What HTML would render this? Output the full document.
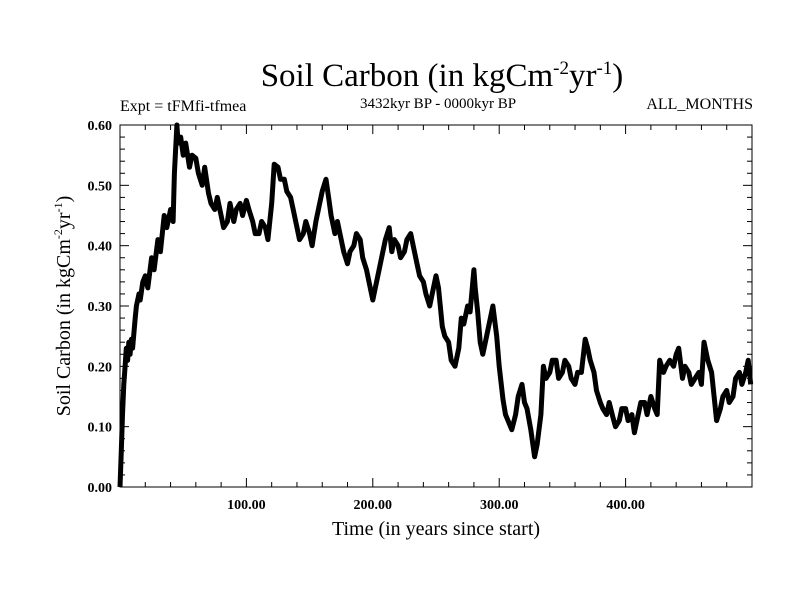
<!DOCTYPE html>
<html><head><meta charset="utf-8"><style>
body{margin:0;background:#fff;}
svg text{font-family:"Liberation Serif",serif;fill:#000;}
</style></head><body>
<svg id="chart" width="800" height="600" xmlns="http://www.w3.org/2000/svg">
<text x="442" y="86" font-size="33" text-anchor="middle">Soil Carbon (in kgCm<tspan font-size="19" dy="-12">-2</tspan><tspan dy="12">yr</tspan><tspan font-size="19" dy="-12">-1</tspan><tspan dy="12">)</tspan></text>
<text x="120" y="111" font-size="16">Expt = tFMfi-tfmea</text>
<text x="438" y="108" font-size="15" text-anchor="middle">3432kyr BP - 0000kyr BP</text>
<text x="753" y="109" font-size="16" text-anchor="end">ALL_MONTHS</text>
<text x="436" y="535" font-size="20" text-anchor="middle">Time (in years since start)</text>
<text transform="translate(70,306) rotate(-90)" font-size="20" text-anchor="middle">Soil Carbon (in kgCm<tspan font-size="12" dy="-8">-2</tspan><tspan dy="8">yr</tspan><tspan font-size="12" dy="-8">-1</tspan><tspan dy="8">)</tspan></text>
<g id="axes"></g>
<path id="series" fill="none" stroke="#000" stroke-width="5" stroke-linejoin="round"/>
<rect x="120" y="125" width="632" height="362" fill="none" stroke="#000" stroke-width="1"/>
</svg>
<script>
const years = [0,1,2,3,4,5,6,7,8,9,10,12,13,15,16,18,20,22,25,27,30,32,35,37,40,42,43,45,46,48,50,52,55,57,60,62,65,67,70,72,75,77,80,82,85,87,90,92,95,97,100,102,105,107,110,112,115,117,120,122,125,127,130,132,135,137,140,142,145,147,150,152,155,157,160,163,165,167,170,172,175,177,180,182,185,187,190,192,195,197,200,202,205,207,210,213,215,217,220,222,225,227,230,232,235,237,240,242,245,247,250,252,255,257,260,262,265,268,270,272,275,277,280,281,283,285,287,290,292,295,298,300,303,305,307,310,313,315,318,320,322,325,328,330,333,335,337,340,342,345,347,350,352,355,357,360,362,365,368,370,372,375,377,380,382,385,387,390,392,395,397,400,402,405,407,410,412,415,417,420,423,425,427,430,432,435,438,440,442,445,447,450,452,455,458,460,462,465,468,470,472,475,477,480,482,485,487,490,492,495,497,499];
const values = [0.0,0.06,0.12,0.17,0.2,0.23,0.21,0.24,0.22,0.245,0.23,0.28,0.3,0.32,0.31,0.34,0.35,0.33,0.38,0.36,0.41,0.39,0.45,0.43,0.46,0.44,0.52,0.6,0.57,0.58,0.55,0.57,0.53,0.55,0.545,0.52,0.5,0.53,0.487,0.47,0.46,0.48,0.45,0.43,0.44,0.47,0.44,0.46,0.47,0.45,0.475,0.46,0.44,0.42,0.42,0.44,0.43,0.41,0.47,0.535,0.53,0.51,0.51,0.49,0.48,0.46,0.43,0.41,0.42,0.44,0.42,0.40,0.44,0.46,0.49,0.51,0.48,0.45,0.42,0.44,0.41,0.39,0.37,0.39,0.40,0.42,0.41,0.38,0.36,0.34,0.31,0.33,0.36,0.38,0.41,0.43,0.39,0.41,0.40,0.38,0.39,0.41,0.42,0.40,0.37,0.35,0.34,0.32,0.30,0.32,0.35,0.33,0.266,0.25,0.24,0.21,0.2,0.23,0.28,0.27,0.30,0.29,0.36,0.33,0.29,0.24,0.22,0.25,0.27,0.30,0.25,0.2,0.145,0.12,0.11,0.095,0.12,0.15,0.17,0.14,0.13,0.095,0.05,0.07,0.12,0.2,0.18,0.19,0.21,0.21,0.18,0.19,0.21,0.20,0.18,0.17,0.19,0.19,0.245,0.23,0.21,0.19,0.16,0.14,0.13,0.12,0.14,0.115,0.1,0.11,0.13,0.13,0.11,0.12,0.09,0.12,0.14,0.14,0.12,0.15,0.13,0.12,0.21,0.19,0.20,0.21,0.20,0.22,0.23,0.18,0.20,0.19,0.17,0.18,0.19,0.17,0.24,0.21,0.19,0.15,0.11,0.13,0.15,0.16,0.14,0.15,0.18,0.19,0.17,0.19,0.21,0.17,0.18,0.16];
const xTicks = [100,200,300,400];
const yTicks = [0,0.1,0.2,0.3,0.4,0.5,0.6];
const L=120,R=752,T=125,B=487,XMAX=500,YMAX=0.6;
function xs(v){return L+(v/XMAX)*(R-L);}
function ys(v){return B-(v/YMAX)*(B-T);}
const NS="http://www.w3.org/2000/svg";
const axes=document.getElementById('axes');
function line(x1,y1,x2,y2,name){const l=document.createElementNS(NS,'line');l.setAttribute('x1',x1);l.setAttribute('y1',y1);l.setAttribute('x2',x2);l.setAttribute('y2',y2);l.setAttribute('stroke','#000');


axes.appendChild(l);}
function txt(x,y,s,anchor,name){const t=document.createElementNS(NS,'text');t.setAttribute('x',x);t.setAttribute('y',y);t.setAttribute('font-size','14');t.setAttribute('font-weight','bold');t.setAttribute('text-anchor',anchor);t.textContent=s;


axes.appendChild(t);}
for(let v=20;v<XMAX;v+=20){const x=xs(v);const major=v%100===0;const len=major?9:5;line(x,B,x,B-len,'x-tick');line(x,T,x,T+len,'x-tick-top');}
xTicks.forEach(v=>txt(xs(v),509,v.toFixed(2),'middle','x-tick-label'));
for(let i=1;i<30;i++){const v=i*0.02;const y=ys(v);const major=i%5===0;const len=major?9:5;line(L,y,L+len,y,'y-tick');line(R,y,R-len,y,'y-tick-right');}
yTicks.forEach(v=>txt(112,ys(v)+5,v.toFixed(2),'end','y-tick-label'));
let d='';years.forEach((yr,i)=>{d+=(i?'L':'M')+xs(yr).toFixed(1)+' '+ys(values[i]).toFixed(1);});
document.getElementById('series').setAttribute('d',d);
</script>
</body></html>
